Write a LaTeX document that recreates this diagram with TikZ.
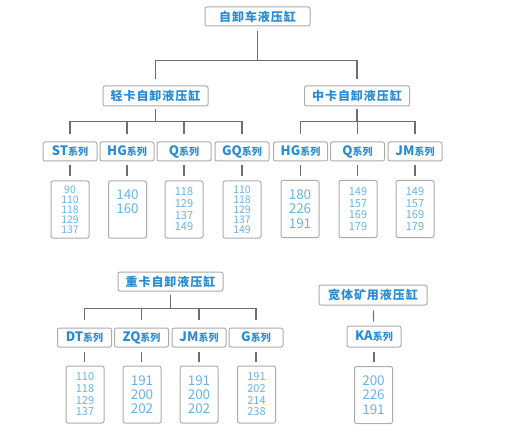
\documentclass[tikz,border=0pt]{standalone}
\usepackage{fontspec}
\setmainfont{Noto Sans CJK SC}
\usetikzlibrary{positioning}
\definecolor{cborde}{HTML}{ABABAB}
\definecolor{clinea}{HTML}{6E6E6E}
\definecolor{ctitulo}{HTML}{2A8CD4}
\definecolor{cvalor}{HTML}{6AB4E4}
\newcommand{\serie}[1]{#1{\fontsize{10}{10}\selectfont 系列}}
\tikzset{
  bloque/.style={draw=cborde,fill=white,line width=1pt,rounded corners=2pt,align=center,
                 inner sep=1pt,text=ctitulo,minimum width=105pt,minimum height=19pt,
                 font=\fontsize{12}{12}\selectfont\bfseries\addfontfeature{LetterSpace=8}},
  bloques/.style={bloque,minimum width=54pt,font=\fontsize{13}{13}\selectfont\bfseries},
  bloquev/.style={bloque,minimum width=38pt,minimum height=57pt,text=cvalor,
                  font=\fontsize{10.5}{10}\selectfont},
  bloquev4/.style={bloquev,font=\fontsize{11}{11.7}\selectfont},
  bloquev3/.style={bloquev,font=\fontsize{13.5}{14.3}\selectfont},
  linea/.style={draw=clinea,line width=1.1pt},
}
\begin{document}
\begin{tikzpicture}[x=1pt,y=-1pt]
\useasboundingbox (0,0) rectangle (523,436);

% raiz y segundo nivel
\node[bloque] (raiz) at (257.5,16.5) {自卸车液压缸};
\node[bloque,minimum height=20pt] (ligero) at (155.5,96) {轻卡自卸液压缸};
\node[bloque,minimum height=20pt] (medio) at (357,96) {中卡自卸液压缸};

% series del camion ligero
\node[bloques] (st) at (70,151.5) {\serie{ST}};
\node[bloques] (hg) at (127,151.5) {\serie{HG}};
\node[bloques] (q) at (184,151.5) {\serie{Q}};
\node[bloques] (gq) at (242,151.5) {\serie{GQ}};
\node[bloquev] (vst) at (70,209.5) {90\\110\\118\\129\\137};
\node[bloquev3,text depth=16pt] (vhg) at (127.5,209.5) {140\\160};
\node[bloquev4] (vq) at (184,209.5) {118\\129\\137\\149};
\node[bloquev] (vgq) at (242,209.5) {110\\118\\129\\137\\149};

% series del camion medio
\node[bloques] (hgm) at (300.5,151.5) {\serie{HG}};
\node[bloques] (qm) at (357.5,151.5) {\serie{Q}};
\node[bloques] (jmm) at (415,151.5) {\serie{JM}};
\node[bloquev3] (vhgm) at (300,209) {180\\226\\191};
\node[bloquev4] (vqm) at (358,209) {149\\157\\169\\179};
\node[bloquev4] (vjmm) at (415,209) {149\\157\\169\\179};

% camion pesado
\node[bloque] (pesado) at (170.5,281.5) {重卡自卸液压缸};
\node[bloques] (dt) at (84.5,337.5) {\serie{DT}};
\node[bloques] (zq) at (141.5,337.5) {\serie{ZQ}};
\node[bloques] (jm) at (199,337.5) {\serie{JM}};
\node[bloques] (g) at (256,337.5) {\serie{G}};
\node[bloquev4] (vdt) at (85,394.5) {110\\118\\129\\137};
\node[bloquev3] (vzq) at (142,394.5) {191\\200\\202};
\node[bloquev3] (vjm) at (199,394.5) {191\\200\\202};
\node[bloquev4] (vg) at (256.5,394.5) {191\\202\\214\\238};

% minero
\node[bloque,minimum width=108pt,minimum height=20pt] (minero) at (373,295) {宽体矿用液压缸};
\node[bloques,minimum height=21pt] (ka) at (374,336.5) {\serie{KA}};
\node[bloquev3] (vka) at (373.5,395) {200\\226\\191};

% conectores
\foreach \h in {ligero,medio}
  \draw[linea,shorten <=5pt,shorten >=6pt] (raiz.south) -- ++(0,34) -| (\h.north);
\foreach \h in {st,hg,q,gq}
  \draw[linea,shorten <=3pt,shorten >=7pt] (ligero.south) -- ++(0,15) -| (\h.north);
\foreach \h in {hgm,qm,jmm}
  \draw[linea,shorten <=3pt,shorten >=7pt] (medio.south) -- ++(0,15) -| (\h.north);
\foreach \h in {dt,zq,jm,g}
  \draw[linea,shorten <=3pt,shorten >=8pt] (pesado.south) -- ++(0,17) -| (\h.north);
\foreach \a/\b in {st/vst,hg/vhg,q/vq,gq/vgq,hgm/vhgm,qm/vqm,jmm/vjmm,dt/vdt,zq/vzq,jm/vjm,g/vg,ka/vka}
  \draw[linea,shorten <=4pt,shorten >=4pt] (\a.south) -- (\a.south |- \b.north);
\draw[linea,shorten <=5pt,shorten >=4pt] (minero) -- (ka);

\end{tikzpicture}
\end{document}
